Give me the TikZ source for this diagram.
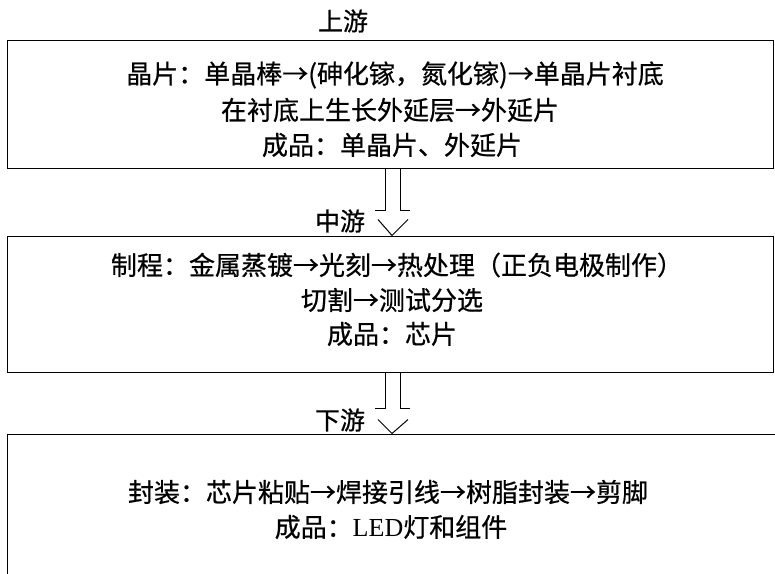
\documentclass[tikz,border=0pt]{standalone}
\usepackage{fontspec}
\setmainfont{Liberation Serif}
\newfontfamily\cjk[FakeBold=0.6]{Noto Sans CJK SC}
\tikzset{
  box/.style={draw, line width=1pt, rectangle, inner sep=0pt},
  txt/.style={font=\cjk\fontsize{26}{30}\selectfont, inner sep=0pt, anchor=center},
  stage/.style={font=\cjk\fontsize{25}{28}\selectfont, inner sep=0pt, anchor=center},
  hollow/.style={draw, line width=1pt}
}
\begin{document}
\begin{tikzpicture}[x=1pt,y=-1pt]
\useasboundingbox (0,0) rectangle (775,573);
\clip (0,0) rectangle (775,573);
% boxes
\node[box, minimum width=766pt, minimum height=128pt] (b1) at (390,104) {};
\node[box, minimum width=766pt, minimum height=136pt] (b2) at (390,304) {};
\node[box, minimum width=790pt, minimum height=160pt] (b3) at (402,514) {};
% stage labels
\node[stage] (l1) at (343,21) {上游};
\node[stage] (l2) at (340,221) {中游};
\node[stage] (l3) at (340,420) {下游};
% box 1 text
\node[txt] (t11) at (395,75) {晶片：单晶棒→(砷化镓，氮化镓)→单晶片衬底};
\node[txt] (t12) at (390,110) {在衬底上生长外延层→外延片};
\node[txt] (t13) at (392,145) {成品：单晶片、外延片};
% box 2 text
\node[txt] (t21) at (397,265) {制程：金属蒸镀→光刻→热处理（正负电极制作）};
\node[txt] (t22) at (392,300) {切割→测试分选};
\node[txt] (t23) at (392,334) {成品：芯片};
% box 3 text
\node[txt] (t31) at (388,492) {封装：芯片粘贴→焊接引线→树脂封装→剪脚};
\node[txt] (t32) at (391,527) {成品：{\rmfamily LED}灯和组件};
% hollow arrows
\coordinate (a1) at (b1.south -| 392,0);
\coordinate (a2) at (b2.south -| 392,0);
\draw[hollow] ([xshift=-7pt]a1) -- ++(0,42) -- ++(-10,0);
\draw[hollow] ([xshift=8pt]a1) -- ++(0,42) -- ++(10,0);
\draw[hollow] ([shift={(-14,51)}]a1) -- (b2.north -| 392,0) -- ([shift={(16,51)}]a1);
\draw[hollow] ([xshift=-7pt]a2) -- ++(0,36) -- ++(-10,0);
\draw[hollow] ([xshift=8pt]a2) -- ++(0,36) -- ++(10,0);
\draw[hollow] ([shift={(-14,47)}]a2) -- (b3.north -| 392,0) -- ([shift={(16,47)}]a2);
\end{tikzpicture}
\end{document}
